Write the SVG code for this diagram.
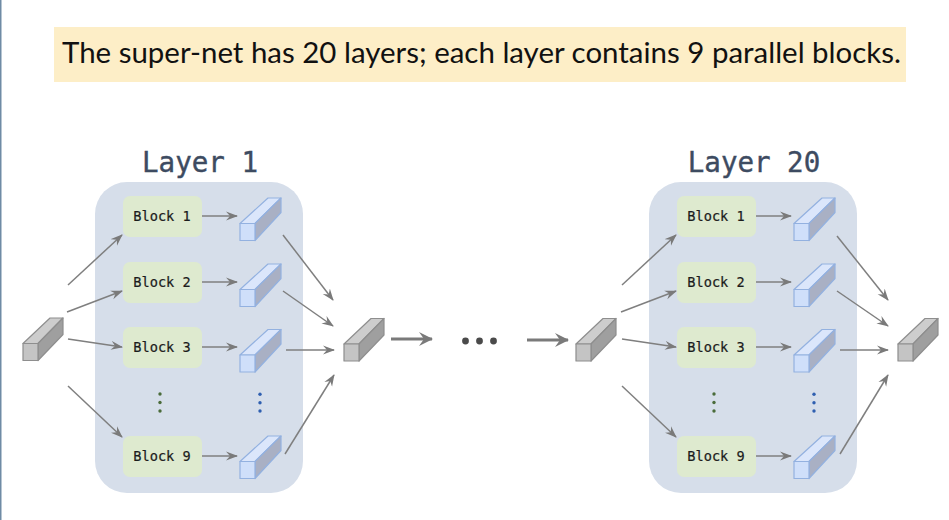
<svg xmlns="http://www.w3.org/2000/svg" width="949" height="520" viewBox="0 0 949 520">
<style>
.panel{fill:#d6deea}
.block{fill:#deeacf}
.bt{font-family:"DejaVu Sans Mono",monospace;font-size:13.6px;fill:#1c1c1c;text-anchor:middle;stroke:#1c1c1c;stroke-width:.2}
.lt{font-family:"DejaVu Sans Mono",monospace;font-size:27.5px;fill:#3d4b61;text-anchor:middle;stroke:#3d4b61;stroke-width:.4}
.title{font-family:"Lato","Open Sans",sans-serif;font-size:29px;fill:#111}
.c{fill:none;stroke:#7f7f7f;stroke-width:1.5}
.t{fill:none;stroke:#7a7a7a;stroke-width:3}
.g{fill:#4a6b3a}
.b{fill:#2f5fb0}
.k{fill:#4a4a4a}
</style>
<defs>
<marker id="a" viewBox="0 0 12 10" refX="11" refY="5" markerWidth="12" markerHeight="10" markerUnits="userSpaceOnUse" orient="auto"><path d="M0,0.5 L12,5 L0,9.5 L4,5z" fill="#7a7a7a"/></marker>
<marker id="at" viewBox="0 0 14 14" refX="13" refY="7" markerWidth="14" markerHeight="14" markerUnits="userSpaceOnUse" orient="auto"><path d="M0,0 L14,7 L0,14 L5,7z" fill="#7a7a7a"/></marker>
<g id="blue" stroke="#93b1e0" stroke-width="1.2" stroke-linejoin="round"><path d="M0,0 L28,-25.5 L41,-25.5 L15,0z" fill="#dbe6fb"/><path d="M15,0 L41,-25.5 L41,-11 L15,17z" fill="#a9b0c4"/><rect x="0" y="0" width="15" height="17" fill="#cfdffa"/></g>
<g id="gray" stroke="#8e8e8e" stroke-width="1.2" stroke-linejoin="round"><path d="M0,0 L27,-25.5 L40,-25.5 L15,0z" fill="#cdcdcd"/><path d="M15,0 L40,-25.5 L40,-9 L15,17z" fill="#9f9f9f"/><rect x="0" y="0" width="15" height="17" fill="#c4c4c4"/></g>
</defs>
<rect width="949" height="520" fill="#fff"/>
<rect x="0" y="0" width="1.5" height="520" fill="#6f8ba5"/>
<g id="banner"><rect x="54" y="27" width="852" height="55" fill="#fdeec7"/><text class="title" x="62" y="63" textLength="839" lengthAdjust="spacingAndGlyphs">The super-net has 20 layers; each layer contains 9 parallel blocks.</text></g>
<g id="layer1"><text class="lt" x="200" y="172">Layer 1</text><rect class="panel" x="95" y="182" width="208" height="311" rx="32"/></g>
<g id="layer20"><text class="lt" x="754" y="172">Layer 20</text><rect class="panel" x="649" y="182" width="208" height="311" rx="32"/></g>
<g id="connectors">
<path class="c" marker-end="url(#a)" d="M68,285L122,235"/><path class="c" marker-end="url(#a)" d="M67,312L122,291"/><path class="c" marker-end="url(#a)" d="M68,339L122,347"/><path class="c" marker-end="url(#a)" d="M68,386L122,437"/>
<path class="c" marker-end="url(#a)" d="M201,216H237"/><path class="c" marker-end="url(#a)" d="M201,282H237"/><path class="c" marker-end="url(#a)" d="M201,347H237"/><path class="c" marker-end="url(#a)" d="M201,456H237"/>
<path class="c" marker-end="url(#a)" d="M283,235L333,300"/><path class="c" marker-end="url(#a)" d="M283,291L333,326"/><path class="c" marker-end="url(#a)" d="M286,350H334"/><path class="c" marker-end="url(#a)" d="M285,454L334,375"/>
<path class="t" marker-end="url(#at)" d="M391,339H432"/><path class="t" marker-end="url(#at)" d="M527,340H568"/>
<path class="c" marker-end="url(#a)" d="M622,285L676,235"/><path class="c" marker-end="url(#a)" d="M621,312L676,291"/><path class="c" marker-end="url(#a)" d="M622,339L676,347"/><path class="c" marker-end="url(#a)" d="M622,386L676,437"/>
<path class="c" marker-end="url(#a)" d="M755,216H791"/><path class="c" marker-end="url(#a)" d="M755,282H791"/><path class="c" marker-end="url(#a)" d="M755,347H791"/><path class="c" marker-end="url(#a)" d="M755,456H791"/>
<path class="c" marker-end="url(#a)" d="M837,236L888,300"/><path class="c" marker-end="url(#a)" d="M837,291L888,326"/><path class="c" marker-end="url(#a)" d="M840,350H888"/><path class="c" marker-end="url(#a)" d="M840,454L888,375"/>
</g>
<g id="in1"><use href="#gray" x="23" y="343.5"/></g>
<g id="mid1"><use href="#gray" x="344" y="344"/></g>
<g id="mid2"><use href="#gray" x="576" y="344"/></g>
<g id="out"><use href="#gray" x="898" y="344"/></g>
<g id="ellipsis"><circle class="k" cx="465.5" cy="341" r="3.4"/><circle class="k" cx="479.5" cy="341" r="3.4"/><circle class="k" cx="493.5" cy="341" r="3.4"/></g>
<g id="l1b1"><rect class="block" x="123" y="196" width="79" height="41" rx="7"/><text class="bt" x="162" y="221">Block 1</text></g>
<g id="l1b2"><rect class="block" x="123" y="262" width="79" height="41" rx="7"/><text class="bt" x="162" y="287">Block 2</text></g>
<g id="l1b3"><rect class="block" x="123" y="327" width="79" height="41" rx="7"/><text class="bt" x="162" y="352">Block 3</text></g>
<g id="l1b9"><rect class="block" x="123" y="436" width="79" height="41" rx="7"/><text class="bt" x="162" y="461">Block 9</text></g>
<g id="l20b1"><rect class="block" x="677" y="196" width="79" height="41" rx="7"/><text class="bt" x="716" y="221">Block 1</text></g>
<g id="l20b2"><rect class="block" x="677" y="262" width="79" height="41" rx="7"/><text class="bt" x="716" y="287">Block 2</text></g>
<g id="l20b3"><rect class="block" x="677" y="327" width="79" height="41" rx="7"/><text class="bt" x="716" y="352">Block 3</text></g>
<g id="l20b9"><rect class="block" x="677" y="436" width="79" height="41" rx="7"/><text class="bt" x="716" y="461">Block 9</text></g>
<g id="l1cubes"><use href="#blue" x="240" y="223.5"/><use href="#blue" x="240" y="289.5"/><use href="#blue" x="240" y="355"/><use href="#blue" x="240" y="461.5"/></g>
<g id="l20cubes"><use href="#blue" x="794" y="223.5"/><use href="#blue" x="794" y="289.5"/><use href="#blue" x="794" y="355"/><use href="#blue" x="794" y="461.5"/></g>
<g id="vdots"><circle class="g" cx="160" cy="394" r="1.7"/><circle class="g" cx="160" cy="402.5" r="1.7"/><circle class="g" cx="160" cy="411" r="1.7"/><circle class="b" cx="260" cy="394.3" r="1.7"/><circle class="b" cx="260" cy="402.7" r="1.7"/><circle class="b" cx="260" cy="411" r="1.7"/><circle class="g" cx="714" cy="394" r="1.7"/><circle class="g" cx="714" cy="402.5" r="1.7"/><circle class="g" cx="714" cy="411" r="1.7"/><circle class="b" cx="814" cy="394.3" r="1.7"/><circle class="b" cx="814" cy="402.7" r="1.7"/><circle class="b" cx="814" cy="411" r="1.7"/></g>
</svg>
